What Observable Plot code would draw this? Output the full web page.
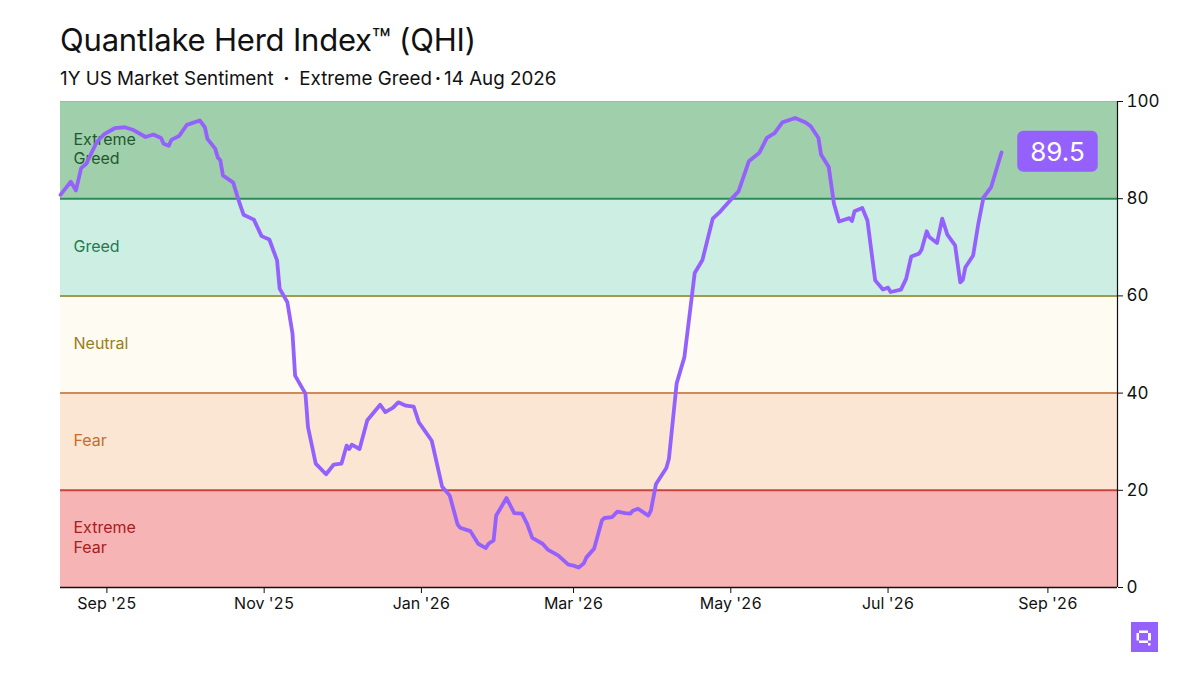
<!DOCTYPE html>
<html>
<head>
<meta charset="utf-8">
<script src="https://cdn.jsdelivr.net/npm/d3@7"></script>
<script src="https://cdn.jsdelivr.net/npm/@observablehq/plot@0.6"></script>
<style>
  html, body { margin: 0; padding: 0; background: #fff; }
  body { width: 1200px; height: 675px; position: relative; overflow: hidden; font-family: Inter, "Noto Sans", sans-serif; color: #111; }
  #title { position: absolute; left: 60px; top: 21px; font-size: 31px; font-weight: 400; letter-spacing: -0.2px; white-space: nowrap; }
  #subtitle { position: absolute; left: 60px; top: 67px; font-size: 18.8px; font-weight: 400; white-space: nowrap; }
  #subtitle .dot { font-weight: 700; }
  #chart { position: absolute; left: 0; top: 90px; }
  #logo { position: absolute; left: 1131px; top: 622px; }
</style>
</head>
<body>
<div id="title">Quantlake Herd Index™ (QHI)</div>
<div id="subtitle">1Y US Market Sentiment <span class="dot">&nbsp;·&nbsp;</span> Extreme Greed<span class="dot">&#8201;·&#8201;</span>14 Aug 2026</div>
<div id="chart"></div>
<svg id="logo" width="27" height="30" viewBox="0 0 27 30">
  <rect width="27" height="30" fill="#9461fd"/>
  <g fill="#fff">
    <rect x="8" y="8.5" width="9" height="2.5"/>
    <rect x="5.5" y="11" width="2.5" height="7.5"/>
    <rect x="17" y="11" width="3" height="7.5"/>
    <rect x="8" y="18.5" width="9" height="2.5"/>
    <rect x="17" y="21" width="2.5" height="2.5"/>
  </g>
</svg>
<script>
// ---- data ----
const dates = [
  "2025-08-14","2025-08-18","2025-08-20","2025-08-22","2025-08-24","2025-08-28","2025-08-31",
  "2025-09-04","2025-09-08","2025-09-11","2025-09-16","2025-09-19","2025-09-22","2025-09-23",
  "2025-09-25","2025-09-26","2025-09-29","2025-10-02","2025-10-07","2025-10-09","2025-10-10",
  "2025-10-13","2025-10-14","2025-10-15","2025-10-16","2025-10-20","2025-10-22","2025-10-24",
  "2025-10-28","2025-10-31","2025-11-03","2025-11-06","2025-11-07","2025-11-10","2025-11-12",
  "2025-11-13","2025-11-17","2025-11-18","2025-11-21","2025-11-25","2025-11-28","2025-12-01",
  "2025-12-03","2025-12-04","2025-12-05","2025-12-08","2025-12-11","2025-12-16","2025-12-18",
  "2025-12-21","2025-12-23","2025-12-26","2025-12-29","2025-12-31","2026-01-02","2026-01-05",
  "2026-01-09","2026-01-12","2026-01-15","2026-01-16","2026-01-20","2026-01-23","2026-01-26",
  "2026-01-27","2026-01-29","2026-01-30","2026-02-03","2026-02-06","2026-02-09","2026-02-11",
  "2026-02-13","2026-02-17","2026-02-19","2026-02-23","2026-02-27","2026-03-01","2026-03-03",
  "2026-03-05","2026-03-06","2026-03-09","2026-03-12","2026-03-13","2026-03-16","2026-03-18",
  "2026-03-21","2026-03-23","2026-03-24","2026-03-26","2026-03-30","2026-03-31","2026-04-02",
  "2026-04-06","2026-04-07","2026-04-10","2026-04-13","2026-04-17","2026-04-20","2026-04-24",
  "2026-04-27","2026-05-01","2026-05-04","2026-05-08","2026-05-12","2026-05-15","2026-05-18",
  "2026-05-21","2026-05-26","2026-05-30","2026-06-01","2026-06-04","2026-06-05","2026-06-08",
  "2026-06-10","2026-06-12","2026-06-16","2026-06-17","2026-06-18","2026-06-21","2026-06-23",
  "2026-06-26","2026-06-29","2026-07-01","2026-07-02","2026-07-06","2026-07-08","2026-07-10",
  "2026-07-13","2026-07-14","2026-07-16","2026-07-17","2026-07-20","2026-07-22","2026-07-24",
  "2026-07-27","2026-07-29","2026-07-30","2026-07-31","2026-08-03","2026-08-05","2026-08-07",
  "2026-08-10","2026-08-14"
];
const values = [
  80.8, 83.5, 81.7, 86.3, 87.2, 91.6, 93.3,
  94.5, 94.7, 94.2, 92.7, 93.2, 92.5, 91.3,
  90.9, 92.1, 92.9, 95.2, 96.1, 94.7, 92.3,
  90.3, 88.5, 87.9, 84.8, 83.3, 79.8, 76.7,
  75.7, 72.3, 71.6, 67.3, 61.5, 58.7, 52.2,
  43.6, 39.9, 33.0, 25.5, 23.3, 25.3, 25.5,
  29.2, 28.5, 29.4, 28.5, 34.4, 37.6, 36.1,
  37.0, 38.1, 37.4, 37.2, 34.0, 32.5, 30.2,
  20.8, 18.9, 13.0, 12.3, 11.6, 9.0, 8.1,
  9.0, 9.7, 14.8, 18.4, 15.3, 15.2, 13.1,
  10.2, 9.0, 7.8, 6.6, 4.7, 4.5, 4.1,
  5.0, 6.2, 8.0, 13.8, 14.3, 14.5, 15.6,
  15.3, 15.2, 15.8, 16.2, 14.8, 15.8, 21.3,
  24.6, 26.5, 42.0, 47.4, 64.7, 67.4, 75.9,
  77.4, 79.8, 81.5, 87.7, 89.4, 92.5, 93.5,
  95.7, 96.6, 95.7, 94.9, 92.5, 89.1, 86.5,
  79.0, 75.3, 76.0, 75.4, 77.4, 78.1, 75.5,
  63.2, 61.3, 61.7, 60.8, 61.3, 63.5, 68.1,
  68.7, 69.5, 73.3, 72.1, 70.9, 75.9, 72.6,
  70.4, 62.8, 63.3, 65.9, 68.3, 74.8, 80.2,
  82.4, 89.5
];

const bandLabels = ["Extreme\nFear", "Fear", "Neutral", "Greed", "Extreme\nGreed"];
const bandLow    = [0, 20, 40, 60, 80];
const bandHigh   = [20, 40, 60, 80, 100];
const bandFill   = ["#f7b4b5", "#fbe6d4", "#fefbf3", "#cdeee2", "#a0cfab"];
const bandLine   = ["#c8443c", "#d08a58", "#a49a4c", "#2e8b57", "#8cc49b"];
const bandText   = ["#a8201e", "#c56d2e", "#9a7d22", "#237a4e", "#1d5a30"];

const xTicks = ["2025-09-01","2025-11-01","2026-01-01","2026-03-01","2026-05-01","2026-07-01","2026-09-01"];
const yTicks = [0, 20, 40, 60, 80, 100];
const xStart = "2025-08-14";
const xEnd = "2026-09-28";

// ---- build ----
const data = dates.map((d, i) => ({date: new Date(d), value: values[i]}));
const bands = bandLow.map((lo, i) => ({lo, hi: bandHigh[i], fill: bandFill[i], line: bandLine[i], text: bandText[i], label: bandLabels[i]}));
const last = data[data.length - 1];
const lineColor = "#9461fd";

const chart = Plot.plot({
  width: 1200,
  height: 540,
  marginTop: 11,
  marginBottom: 43,
  marginLeft: 60,
  marginRight: 83,
  x: {type: "utc", domain: [new Date(xStart), new Date(xEnd)]},
  y: {domain: [0, 100]},
  color: {type: "identity"},
  style: {fontFamily: "Inter, 'Noto Sans', sans-serif", fontSize: "16px", color: "#111", background: "transparent"},
  marks: [
    Plot.rect(bands, {y1: "lo", y2: "hi", fill: d => d.fill}),
    Plot.ruleY(bands, {y: "hi", stroke: d => d.line, strokeWidth: d => d.hi === 100 ? 1.2 : 2}),
    Plot.text(bands, {y: d => (d.lo + d.hi) / 2, text: "label", frameAnchor: "left", dx: 13, dy: -2, textAnchor: "start", fill: d => d.text, fontSize: 16, lineHeight: 1.22}),
    Plot.line(data, {x: "date", y: "value", stroke: lineColor, strokeWidth: 3.8, strokeLinejoin: "round", strokeLinecap: "round"}),
    Plot.ruleY([0], {stroke: "#111", strokeWidth: 1.5}),
    Plot.ruleX([new Date(xEnd)], {stroke: "#111", strokeWidth: 1.2}),
    Plot.axisX({ticks: xTicks.map(d => new Date(d)), tickFormat: d3.utcFormat("%b '%y"), tickSize: 6, tickPadding: 4, fontSize: 16, label: null}),
    Plot.axisY({anchor: "right", ticks: yTicks, tickSize: 5, tickPadding: 4, fontSize: 17, label: null}),
    Plot.text([last], {x: "date", y: "value", text: d => d.value.toFixed(1), dx: 56, fill: "white", fontSize: 26, className: "endlabel"})
  ]
});
document.getElementById("chart").appendChild(chart);

// rounded badge behind end label
const t = chart.querySelector(".endlabel text");
if (t) {
  const bb = t.getBBox();
  const padX = 13, padY = 5;
  const r = document.createElementNS("http://www.w3.org/2000/svg", "rect");
  r.setAttribute("x", bb.x - padX);
  r.setAttribute("y", bb.y - padY);
  r.setAttribute("width", bb.width + 2 * padX);
  r.setAttribute("height", bb.height + 2 * padY);
  r.setAttribute("rx", 6);
  r.setAttribute("fill", lineColor);
  const tr = t.getAttribute("transform");
  if (tr) r.setAttribute("transform", tr);
  t.parentNode.insertBefore(r, t);
}
</script>
</body>
</html>
